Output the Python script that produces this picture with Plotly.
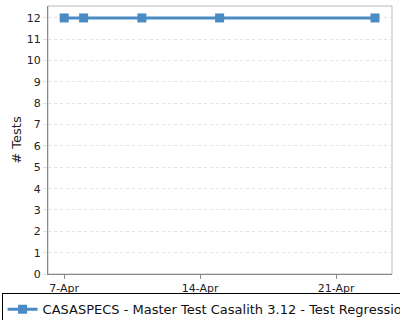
import plotly.graph_objects as go

dates = ["2013-04-07", "2013-04-08", "2013-04-11", "2013-04-15", "2013-04-23"]
tests = [12, 12, 12, 12, 12]
series_name = "CASASPECS - Master Test Casalith 3.12 - Test Regressions Master"
tick_vals = ["2013-04-07", "2013-04-14", "2013-04-21"]
tick_text = ["7-Apr", "14-Apr", "21-Apr"]

fig = go.Figure()
fig.add_trace(go.Scatter(
    x=dates, y=tests, mode="lines+markers", name=series_name,
    line=dict(color="#4a8bc4", width=3),
    marker=dict(symbol="square", size=9, color="#4a8bc4"),
))

fig.update_layout(
    width=400, height=320,
    margin=dict(l=48, r=8, t=6, b=46, autoexpand=False),
    paper_bgcolor="white", plot_bgcolor="white",
    font=dict(family="DejaVu Sans", size=11, color="#222"),
    showlegend=True,
    legend=dict(orientation="h", x=-0.135, y=-0.072, xanchor="left", yanchor="top",
                bordercolor="black", borderwidth=1, font=dict(size=13, color="#111"),
                bgcolor="rgba(255,255,255,0)", itemwidth=30, tracegroupgap=0),
    xaxis=dict(
        type="date", range=["2013-04-06 04:00", "2013-04-23 21:00"],
        tickvals=tick_vals, ticktext=tick_text, showgrid=False,
        showline=True, linecolor="#888", linewidth=1, mirror=False,
        ticks="outside", ticklen=4, tickcolor="#888", tickfont=dict(size=11),
        zeroline=False,
    ),
    yaxis=dict(
        range=[0, 12.56], dtick=1, showgrid=True, gridcolor="#e2e2e2", griddash="3px,3px",
        showline=True, linecolor="#888", linewidth=1,
        ticks="outside", ticklen=4, tickcolor="#e2e2e2", tickfont=dict(size=11),
        title=dict(text="# Tests", font=dict(size=13), standoff=2), zeroline=False,
    ),
    shapes=[dict(type="rect", xref="paper", yref="paper", x0=0, x1=1, y0=0, y1=1,
                 line=dict(color="#bbb", width=1), layer="below")],
)

fig.write_html("out.html")
